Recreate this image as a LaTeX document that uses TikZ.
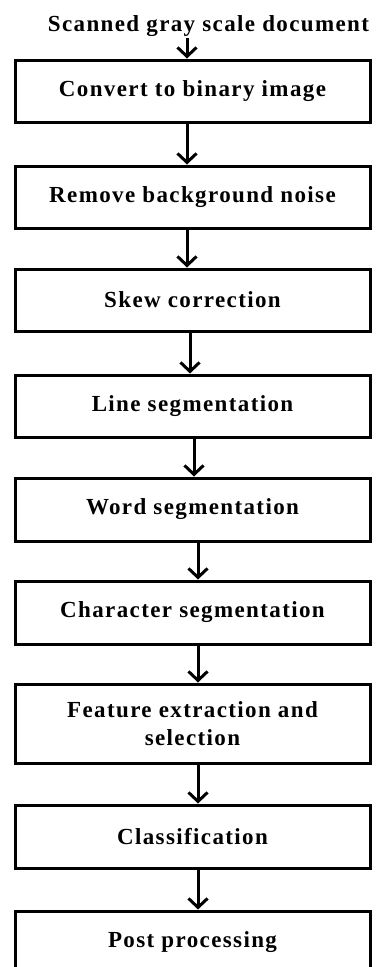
\documentclass[tikz,border=0pt]{standalone}
\usepackage{fontspec}
\setmainfont{Liberation Serif}[LetterSpace=6]
\usetikzlibrary{arrows.meta}
\tikzset{
  stepbox/.style={draw=black, line width=3pt, rectangle, minimum width=355pt, inner sep=0pt, align=center,
    font=\fontsize{23}{28}\selectfont\bfseries},
  arr/.style={draw=black, line width=3pt, -{Straight Barb[length=9pt,width=19pt,line width=3pt]}},
  lbl/.style={inner sep=0pt, font=\fontsize{23}{28}\selectfont\bfseries}
}
\begin{document}
\begin{tikzpicture}[x=1pt,y=-1pt]
\useasboundingbox (0,0) rectangle (377,967);
\clip (0,0) rectangle (377,967);
\node[lbl, anchor=base] (t) at (208.5,31) {Scanned gray scale document};
\node[stepbox, minimum height=62pt] (b1) at (192.5,91) {Convert to binary image};
\node[stepbox, minimum height=62pt] (b2) at (192.5,197) {Remove background noise};
\node[stepbox, minimum height=62pt] (b3) at (192.5,300) {Skew correction};
\node[stepbox, minimum height=62pt] (b4) at (192.5,406) {Line segmentation};
\node[stepbox, minimum height=63pt] (b5) at (192.5,509.5) {Word segmentation};
\node[stepbox, minimum height=63pt] (b6) at (192.5,612.5) {Character segmentation};
\node[stepbox, minimum height=79pt] (b7) at (192.5,723.5) {Feature extraction and\\selection};
\node[stepbox, minimum height=63pt] (b8) at (192.5,836.5) {Classification};
\node[stepbox, minimum height=62pt] (b9) at (192.5,942) {Post processing};
\draw[arr] ([xshift=-5.5pt,yshift=-2pt]t.south -| b1.north) coordinate (s0) -- (s0 |- b1.north);
\draw[arr] ([xshift=-5.5pt]b1.south) -- ([xshift=-5.5pt]b2.north);
\draw[arr] ([xshift=-5.5pt]b2.south) -- ([xshift=-5.5pt]b3.north);
\draw[arr] ([xshift=-2.5pt]b3.south) -- ([xshift=-2.5pt]b4.north);
\draw[arr] ([xshift=1.5pt]b4.south) -- ([xshift=1.5pt]b5.north);
\draw[arr] ([xshift=5.5pt]b5.south) -- ([xshift=5.5pt]b6.north);
\draw[arr] ([xshift=5.5pt]b6.south) -- ([xshift=5.5pt]b7.north);
\draw[arr] ([xshift=5.5pt]b7.south) -- ([xshift=5.5pt]b8.north);
\draw[arr] ([xshift=5.5pt]b8.south) -- ([xshift=5.5pt]b9.north);
\end{tikzpicture}
\end{document}
